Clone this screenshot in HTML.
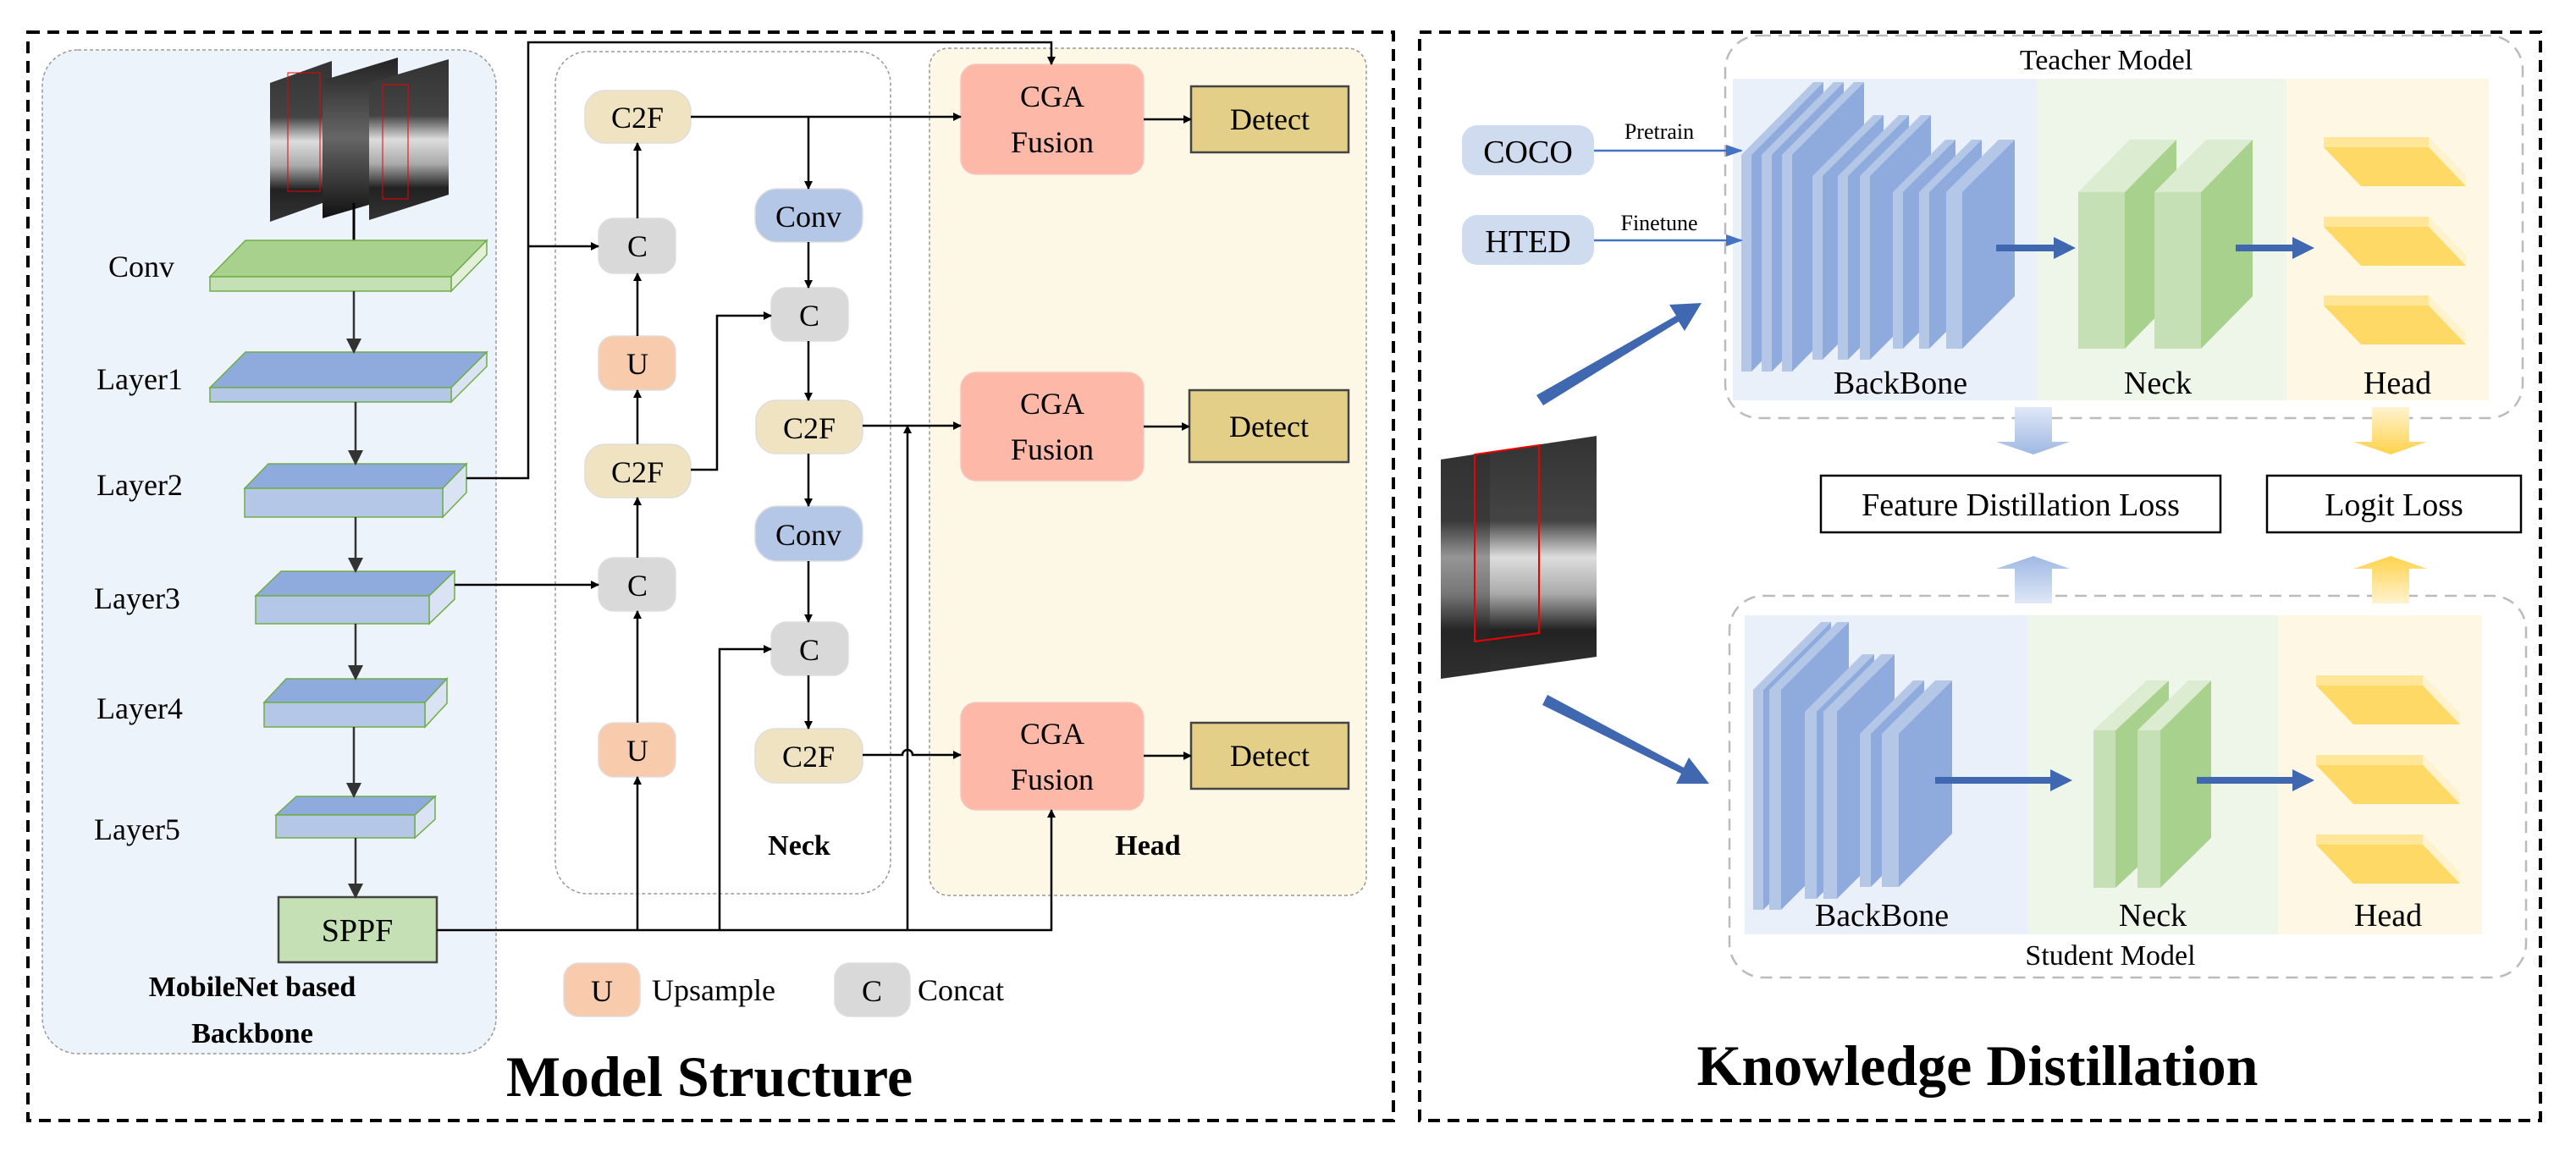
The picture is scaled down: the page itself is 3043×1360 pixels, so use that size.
<!DOCTYPE html>
<html><head><meta charset="utf-8"><style>
html,body{margin:0;padding:0;background:#fff}
svg{display:block}
svg text{font-family:"Liberation Serif","DejaVu Serif",serif !important;fill:#000}
</style></head><body>
<svg width="3043" height="1360" viewBox="0 0 3043 1360" xmlns="http://www.w3.org/2000/svg" font-family="Liberation Serif, DejaVu Serif, serif">
<defs>
<marker id="a" markerWidth="10" markerHeight="10" refX="9" refY="5" orient="auto" markerUnits="userSpaceOnUse" viewBox="0 0 10 10"><path d="M0,0L10,5L0,10z" fill="#000"/></marker>
<marker id="ab" markerWidth="18" markerHeight="18" refX="16" refY="9" orient="auto" markerUnits="userSpaceOnUse" viewBox="0 0 18 18"><path d="M0,0L18,9L0,18z" fill="#000"/></marker>
<marker id="ag" markerWidth="18" markerHeight="18" refX="16" refY="9" orient="auto" markerUnits="userSpaceOnUse" viewBox="0 0 18 18"><path d="M0,0L18,9L0,18z" fill="#333"/></marker>
<marker id="abl" markerWidth="20" markerHeight="20" refX="18" refY="10" orient="auto" markerUnits="userSpaceOnUse" viewBox="0 0 20 20"><path d="M0,3L20,10L0,17z" fill="#4472c4"/></marker>
<linearGradient id="gb" x1="0" y1="0" x2="0" y2="1"><stop offset="0" stop-color="#dfe8f7"/><stop offset="1" stop-color="#9fb8e3"/></linearGradient>
<linearGradient id="gbu" x1="0" y1="1" x2="0" y2="0"><stop offset="0" stop-color="#dfe8f7"/><stop offset="1" stop-color="#9fb8e3"/></linearGradient>
<linearGradient id="gy" x1="0" y1="0" x2="0" y2="1"><stop offset="0" stop-color="#fff3d0"/><stop offset="1" stop-color="#ffd24a"/></linearGradient>
<linearGradient id="gyu" x1="0" y1="1" x2="0" y2="0"><stop offset="0" stop-color="#fff3d0"/><stop offset="1" stop-color="#ffd24a"/></linearGradient>
<linearGradient id="img" x1="0" y1="0" x2="0" y2="1"><stop offset="0" stop-color="#333"/><stop offset="0.35" stop-color="#444"/><stop offset="0.5" stop-color="#ddd"/><stop offset="0.65" stop-color="#aaa"/><stop offset="0.8" stop-color="#222"/><stop offset="1" stop-color="#333"/></linearGradient>
<linearGradient id="img2" x1="0" y1="0" x2="0" y2="1"><stop offset="0" stop-color="#222"/><stop offset="0.5" stop-color="#666"/><stop offset="1" stop-color="#111"/></linearGradient>
</defs>

<rect x="33" y="38" width="1613" height="1286" fill="none" stroke="#000" stroke-width="4" stroke-dasharray="14,9"/>
<rect x="1677" y="38" width="1324" height="1286" fill="none" stroke="#000" stroke-width="4" stroke-dasharray="14,9"/>

<rect x="50" y="59" width="536" height="1186" rx="42" fill="#edf3fa" stroke="#999" stroke-width="1.5" stroke-dasharray="4,3"/>
<rect x="656" y="61" width="396" height="995" rx="38" fill="#fff" stroke="#999" stroke-width="1.5" stroke-dasharray="4,3"/>
<rect x="1098" y="57" width="516" height="1001" rx="22" fill="#fdf8e6" stroke="#999" stroke-width="1.5" stroke-dasharray="4,3"/>

<!-- input images -->
<polygon points="319,98 392,72 392,236 319,262" fill="url(#img)"/>
<rect x="340" y="86" width="38" height="140" fill="none" stroke="#e00" stroke-width="1"/>
<polygon points="381,95 470,68 470,232 381,258" fill="url(#img2)"/>
<polygon points="436,98 530,70 530,230 436,260" fill="url(#img)"/>
<rect x="452" y="100" width="30" height="135" fill="none" stroke="#e00" stroke-width="1"/>
<line x1="418" y1="240" x2="418" y2="327" stroke="#000" stroke-width="3" marker-end="url(#ab)"/>

<g stroke="#70ad47" stroke-width="1.5">
<polygon points="248,327 290,284 575,284 533,327" fill="#a9d18e"/>
<polygon points="533,327 575,284 575,301 533,344" fill="#e2f0d9"/>
<rect x="248" y="327" width="285" height="17" fill="#c5e0b4"/>
<polygon points="248,458 290,416 575,416 533,458" fill="#8faadc"/>
<polygon points="533,458 575,416 575,433 533,475" fill="#dae3f3"/>
<rect x="248" y="458" width="285" height="17" fill="#b4c7e7"/>
<polygon points="289,577 317,548 551,548 523,577" fill="#8faadc"/>
<polygon points="523,577 551,548 551,582 523,611" fill="#dae3f3"/>
<rect x="289" y="577" width="234" height="34" fill="#b4c7e7"/>
<polygon points="302,704 332,675 537,675 507,704" fill="#8faadc"/>
<polygon points="507,704 537,675 537,708 507,737" fill="#dae3f3"/>
<rect x="302" y="704" width="205" height="33" fill="#b4c7e7"/>
<polygon points="312,830 338,802 528,802 502,830" fill="#8faadc"/>
<polygon points="502,830 528,802 528,831 502,859" fill="#dae3f3"/>
<rect x="312" y="830" width="190" height="29" fill="#b4c7e7"/>
<polygon points="326,963 350,941 514,941 490,963" fill="#8faadc"/>
<polygon points="490,963 514,941 514,968 490,990" fill="#dae3f3"/>
<rect x="326" y="963" width="164" height="27" fill="#b4c7e7"/>
</g>
<rect x="329" y="1060" width="187" height="77" fill="#c5e0b4" stroke="#444" stroke-width="2.5"/>
<text x="422" y="1112" font-size="38" text-anchor="middle">SPPF</text>

<g font-size="36">
<text x="128" y="327">Conv</text>
<text x="114" y="460">Layer1</text>
<text x="114" y="585">Layer2</text>
<text x="111" y="719">Layer3</text>
<text x="114" y="849">Layer4</text>
<text x="111" y="992">Layer5</text>
</g>
<text x="298" y="1177" font-size="34" font-weight="bold" text-anchor="middle">MobileNet based</text>
<text x="298" y="1232" font-size="34" font-weight="bold" text-anchor="middle">Backbone</text>

<g stroke="#333" stroke-width="2.5" fill="none">
<line x1="418" y1="344" x2="418" y2="416" marker-end="url(#ag)"/>
<line x1="420" y1="475" x2="420" y2="548" marker-end="url(#ag)"/>
<line x1="420" y1="611" x2="420" y2="675" marker-end="url(#ag)"/>
<line x1="420" y1="737" x2="420" y2="802" marker-end="url(#ag)"/>
<line x1="418" y1="859" x2="418" y2="941" marker-end="url(#ag)"/>
<line x1="420" y1="990" x2="420" y2="1060" marker-end="url(#ag)"/>
</g>

<g stroke="#ddd" stroke-width="1.5">
<rect x="691" y="107" width="125" height="62" rx="24" fill="#efe3c2"/>
<rect x="707" y="258" width="91" height="65" rx="18" fill="#d9d9d9"/>
<rect x="707" y="397" width="91" height="64" rx="18" fill="#f8cbad"/>
<rect x="691" y="525" width="125" height="63" rx="24" fill="#efe3c2"/>
<rect x="707" y="659" width="91" height="63" rx="18" fill="#d9d9d9"/>
<rect x="707" y="854" width="91" height="64" rx="18" fill="#f8cbad"/>
<rect x="892" y="223" width="127" height="63" rx="26" fill="#b4c7e7"/>
<rect x="911" y="340" width="91" height="63" rx="18" fill="#d9d9d9"/>
<rect x="893" y="473" width="126" height="63" rx="24" fill="#efe3c2"/>
<rect x="892" y="598" width="127" height="65" rx="26" fill="#b4c7e7"/>
<rect x="911" y="735" width="91" height="63" rx="18" fill="#d9d9d9"/>
<rect x="892" y="861" width="127" height="64" rx="24" fill="#efe3c2"/>
<rect x="666" y="1138" width="90" height="63" rx="18" fill="#f8cbad"/>
<rect x="986" y="1138" width="89" height="63" rx="18" fill="#d9d9d9"/>
</g>
<g font-size="36" text-anchor="middle">
<text x="753" y="151">C2F</text>
<text x="753" y="303">C</text>
<text x="753" y="442">U</text>
<text x="753" y="570">C2F</text>
<text x="753" y="704">C</text>
<text x="753" y="899">U</text>
<text x="955" y="268">Conv</text>
<text x="956" y="385">C</text>
<text x="956" y="518">C2F</text>
<text x="955" y="644">Conv</text>
<text x="956" y="780">C</text>
<text x="955" y="906">C2F</text>
<text x="711" y="1183">U</text>
<text x="1030" y="1183">C</text>
</g>
<text x="770" y="1182" font-size="36">Upsample</text>
<text x="1084" y="1182" font-size="36">Concat</text>
<text x="944" y="1010" font-size="34" font-weight="bold" text-anchor="middle">Neck</text>
<text x="1356" y="1010" font-size="34" font-weight="bold" text-anchor="middle">Head</text>

<g stroke="#f3c8bd" stroke-width="1.5">
<rect x="1135" y="76" width="216" height="130" rx="18" fill="#fdb8a8"/>
<rect x="1135" y="440" width="216" height="128" rx="18" fill="#fdb8a8"/>
<rect x="1135" y="830" width="216" height="127" rx="18" fill="#fdb8a8"/>
</g>
<g font-size="36" text-anchor="middle">
<text x="1243" y="126">CGA</text><text x="1243" y="180">Fusion</text>
<text x="1243" y="489">CGA</text><text x="1243" y="543">Fusion</text>
<text x="1243" y="879">CGA</text><text x="1243" y="933">Fusion</text>
</g>
<g fill="#e3cf88" stroke="#444" stroke-width="2.5">
<rect x="1407" y="102" width="186" height="78"/>
<rect x="1405" y="461" width="188" height="85"/>
<rect x="1407" y="854" width="186" height="78"/>
</g>
<g font-size="36" text-anchor="middle">
<text x="1500" y="153">Detect</text>
<text x="1499" y="516">Detect</text>
<text x="1500" y="905">Detect</text>
</g>

<g stroke="#000" stroke-width="2.5" fill="none">
<polyline points="551,565 624,565 624,50 1242,50 1242,76" marker-end="url(#a)"/>
<line x1="624" y1="291" x2="707" y2="291" marker-end="url(#a)"/>
<line x1="537" y1="691" x2="707" y2="691" marker-end="url(#a)"/>
<line x1="753" y1="1099" x2="753" y2="918" marker-end="url(#a)"/>
<line x1="753" y1="854" x2="753" y2="722" marker-end="url(#a)"/>
<line x1="753" y1="659" x2="753" y2="588" marker-end="url(#a)"/>
<line x1="753" y1="525" x2="753" y2="461" marker-end="url(#a)"/>
<line x1="753" y1="397" x2="753" y2="323" marker-end="url(#a)"/>
<line x1="753" y1="258" x2="753" y2="169" marker-end="url(#a)"/>
<line x1="816" y1="138" x2="1135" y2="138" marker-end="url(#a)"/>
<line x1="955" y1="138" x2="955" y2="223" marker-end="url(#a)"/>
<line x1="955" y1="286" x2="955" y2="340" marker-end="url(#a)"/>
<line x1="955" y1="403" x2="955" y2="473" marker-end="url(#a)"/>
<line x1="955" y1="536" x2="955" y2="598" marker-end="url(#a)"/>
<line x1="955" y1="663" x2="955" y2="735" marker-end="url(#a)"/>
<line x1="955" y1="798" x2="955" y2="861" marker-end="url(#a)"/>
<polyline points="816,555 847,555 847,373 911,373" marker-end="url(#a)"/>
<line x1="1019" y1="503" x2="1135" y2="503" marker-end="url(#a)"/>
<line x1="1072" y1="1099" x2="1072" y2="503" marker-end="url(#a)"/>
<polyline points="850,1099 850,767 911,767" marker-end="url(#a)"/>
<path d="M1019,892 L1066,892 A6,6 0 0 1 1078,892 L1135,892" marker-end="url(#a)"/>
<polyline points="516,1099 1242,1099 1242,957" marker-end="url(#a)"/>
<line x1="1351" y1="141" x2="1407" y2="141" marker-end="url(#a)"/>
<line x1="1351" y1="504" x2="1405" y2="504" marker-end="url(#a)"/>
<line x1="1351" y1="893" x2="1407" y2="893" marker-end="url(#a)"/>
</g>

<text x="838" y="1295" font-size="68" font-weight="bold" text-anchor="middle">Model Structure</text>

<!-- ===== Knowledge Distillation ===== -->
<rect x="2038" y="42" width="942" height="452" rx="40" fill="none" stroke="#bbb" stroke-width="2.5" stroke-dasharray="14,9"/>
<rect x="2043" y="704" width="941" height="451" rx="40" fill="none" stroke="#bbb" stroke-width="2.5" stroke-dasharray="14,9"/>
<rect x="2047" y="93" width="359" height="380" fill="#eaf0fa"/>
<rect x="2406" y="93" width="295" height="380" fill="#eef5e9"/>
<rect x="2701" y="93" width="239" height="380" fill="#fdf7e3"/>
<rect x="2061" y="727" width="334" height="377" fill="#eaf0fa"/>
<rect x="2395" y="727" width="296" height="377" fill="#eef5e9"/>
<rect x="2691" y="727" width="241" height="377" fill="#fdf7e3"/>

<text x="2488" y="82" font-size="34" text-anchor="middle">Teacher Model</text>
<text x="2493" y="1140" font-size="34" text-anchor="middle">Student Model</text>
<g font-size="38" text-anchor="middle">
<text x="2245" y="465">BackBone</text><text x="2549" y="465">Neck</text><text x="2832" y="465">Head</text>
<text x="2223" y="1094">BackBone</text><text x="2543" y="1094">Neck</text><text x="2821" y="1094">Head</text>
</g>

<polygon points="2069,183 2154,97 2154,353 2069,439" fill="#8faadc"/><polygon points="2057,183 2142,97 2154,97 2069,183" fill="#b4c7e7"/><rect x="2057" y="183" width="12" height="256" fill="#b4c7e7"/>
<polygon points="2093,183 2178,97 2178,353 2093,439" fill="#8faadc"/><polygon points="2081,183 2166,97 2178,97 2093,183" fill="#b4c7e7"/><rect x="2081" y="183" width="12" height="256" fill="#b4c7e7"/>
<polygon points="2117,183 2202,97 2202,353 2117,439" fill="#8faadc"/><polygon points="2105,183 2190,97 2202,97 2117,183" fill="#b4c7e7"/><rect x="2105" y="183" width="12" height="256" fill="#b4c7e7"/>
<polygon points="2153,208 2225,136 2225,353 2153,425" fill="#8faadc"/><polygon points="2141,208 2213,136 2225,136 2153,208" fill="#b4c7e7"/><rect x="2141" y="208" width="12" height="217" fill="#b4c7e7"/>
<polygon points="2183,208 2255,136 2255,353 2183,425" fill="#8faadc"/><polygon points="2171,208 2243,136 2255,136 2183,208" fill="#b4c7e7"/><rect x="2171" y="208" width="12" height="217" fill="#b4c7e7"/>
<polygon points="2209,208 2281,136 2281,353 2209,425" fill="#8faadc"/><polygon points="2197,208 2269,136 2281,136 2209,208" fill="#b4c7e7"/><rect x="2197" y="208" width="12" height="217" fill="#b4c7e7"/>
<polygon points="2248,227 2310,165 2310,350 2248,412" fill="#8faadc"/><polygon points="2236,227 2298,165 2310,165 2248,227" fill="#b4c7e7"/><rect x="2236" y="227" width="12" height="185" fill="#b4c7e7"/>
<polygon points="2279,227 2341,165 2341,350 2279,412" fill="#8faadc"/><polygon points="2267,227 2329,165 2341,165 2279,227" fill="#b4c7e7"/><rect x="2267" y="227" width="12" height="185" fill="#b4c7e7"/>
<polygon points="2318,227 2380,165 2380,350 2318,412" fill="#8faadc"/><polygon points="2299,227 2361,165 2380,165 2318,227" fill="#b4c7e7"/><rect x="2299" y="227" width="19" height="185" fill="#b4c7e7"/>

<polygon points="2510,227 2571,165 2571,350 2510,412" fill="#a9d18e"/><polygon points="2455,227 2516,165 2571,165 2510,227" fill="#dbecd0"/><rect x="2455" y="227" width="55" height="185" fill="#c5e0b4"/>
<polygon points="2600,227 2661,165 2661,350 2600,412" fill="#a9d18e"/><polygon points="2545,227 2606,165 2661,165 2600,227" fill="#dbecd0"/><rect x="2545" y="227" width="55" height="185" fill="#c5e0b4"/>

<polygon points="2745,162 2869,162 2913,208 2913,220 2789,220 2745,174" fill="#ffd966"/><polygon points="2745,162 2869,162 2869,174 2745,174" fill="#ffe699"/><polygon points="2869,162 2913,208 2913,220 2869,174" fill="#fff2cc"/>
<polygon points="2745,256 2869,256 2913,302 2913,314 2789,314 2745,268" fill="#ffd966"/><polygon points="2745,256 2869,256 2869,268 2745,268" fill="#ffe699"/><polygon points="2869,256 2913,302 2913,314 2869,268" fill="#fff2cc"/>
<polygon points="2745,349 2869,349 2913,395 2913,407 2789,407 2745,361" fill="#ffd966"/><polygon points="2745,349 2869,349 2869,361 2745,361" fill="#ffe699"/><polygon points="2869,349 2913,395 2913,407 2869,361" fill="#fff2cc"/>

<polygon points="2083,815 2163,735 2163,995 2083,1075" fill="#8faadc"/><polygon points="2071,815 2151,735 2163,735 2083,815" fill="#b4c7e7"/><rect x="2071" y="815" width="12" height="260" fill="#b4c7e7"/>
<polygon points="2104,815 2184,735 2184,995 2104,1075" fill="#8faadc"/><polygon points="2090,815 2170,735 2184,735 2104,815" fill="#b4c7e7"/><rect x="2090" y="815" width="14" height="260" fill="#b4c7e7"/>
<polygon points="2146,841 2214,773 2214,994 2146,1062" fill="#8faadc"/><polygon points="2132,841 2200,773 2214,773 2146,841" fill="#b4c7e7"/><rect x="2132" y="841" width="14" height="221" fill="#b4c7e7"/>
<polygon points="2170,841 2238,773 2238,994 2170,1062" fill="#8faadc"/><polygon points="2154,841 2222,773 2238,773 2170,841" fill="#b4c7e7"/><rect x="2154" y="841" width="16" height="221" fill="#b4c7e7"/>
<polygon points="2210,867 2273,804 2273,985 2210,1048" fill="#8faadc"/><polygon points="2197,867 2260,804 2273,804 2210,867" fill="#b4c7e7"/><rect x="2197" y="867" width="13" height="181" fill="#b4c7e7"/>
<polygon points="2243,867 2306,804 2306,985 2243,1048" fill="#8faadc"/><polygon points="2223,867 2286,804 2306,804 2243,867" fill="#b4c7e7"/><rect x="2223" y="867" width="20" height="181" fill="#b4c7e7"/>

<polygon points="2499,863 2562,804 2562,990 2499,1049" fill="#a9d18e"/><polygon points="2473,863 2536,804 2562,804 2499,863" fill="#dbecd0"/><rect x="2473" y="863" width="26" height="186" fill="#c5e0b4"/>
<polygon points="2552,863 2612,804 2612,990 2552,1049" fill="#a9d18e"/><polygon points="2525,863 2585,804 2612,804 2552,863" fill="#dbecd0"/><rect x="2525" y="863" width="27" height="186" fill="#c5e0b4"/>

<polygon points="2736,798 2862,798 2906,844 2906,856 2780,856 2736,810" fill="#ffd966"/><polygon points="2736,798 2862,798 2862,810 2736,810" fill="#ffe699"/><polygon points="2862,798 2906,844 2906,856 2862,810" fill="#fff2cc"/>
<polygon points="2736,892 2862,892 2906,938 2906,950 2780,950 2736,904" fill="#ffd966"/><polygon points="2736,892 2862,892 2862,904 2736,904" fill="#ffe699"/><polygon points="2862,892 2906,938 2906,950 2862,904" fill="#fff2cc"/>
<polygon points="2736,986 2862,986 2906,1032 2906,1044 2780,1044 2736,998" fill="#ffd966"/><polygon points="2736,986 2862,986 2862,998 2736,998" fill="#ffe699"/><polygon points="2862,986 2906,1032 2906,1044 2862,998" fill="#fff2cc"/>

<g stroke="#4068b0" stroke-width="8" fill="none">
<line x1="2358" y1="293" x2="2430" y2="293"/><line x1="2641" y1="293" x2="2712" y2="293"/>
<line x1="2286" y1="922" x2="2426" y2="922"/><line x1="2595" y1="922" x2="2712" y2="922"/>
</g>
<g fill="#4068b0">
<polygon points="2426,280 2452,293 2426,306"/><polygon points="2708,280 2734,293 2708,306"/>
<polygon points="2422,909 2448,922 2422,935"/><polygon points="2708,909 2734,922 2708,935"/>
</g>

<rect x="1727" y="148" width="156" height="59" rx="18" fill="#cfdcf0"/>
<rect x="1727" y="254" width="156" height="59" rx="18" fill="#cfdcf0"/>
<text x="1805" y="192" font-size="38" text-anchor="middle">COCO</text>
<text x="1805" y="298" font-size="38" text-anchor="middle">HTED</text>
<text x="1960" y="164" font-size="26" text-anchor="middle">Pretrain</text>
<text x="1960" y="272" font-size="26" text-anchor="middle">Finetune</text>
<g stroke="#4472c4" stroke-width="2.5">
<line x1="1883" y1="178" x2="2057" y2="178" marker-end="url(#abl)"/>
<line x1="1883" y1="284" x2="2057" y2="284" marker-end="url(#abl)"/>
</g>

<polygon points="1702,543 1886,515 1886,776 1702,802" fill="url(#img)"/>
<polygon points="1702,543 1760,534 1760,794 1702,802" fill="#2a2a2a" opacity="0.4"/>
<polygon points="1742,537 1818,526 1818,748 1742,758" fill="none" stroke="#e00" stroke-width="2"/>

<g fill="#4068b0">
<polygon points="1815,467 1980,373 1972,360 2010,358 1990,391 1983,380 1823,479"/>
<polygon points="1822,833 1986,914 1980,926 2019,926 1995,895 1989,907 1828,821"/>
</g>

<rect x="2151" y="562" width="472" height="67" fill="#fff" stroke="#000" stroke-width="2.5"/>
<rect x="2678" y="562" width="300" height="67" fill="#fff" stroke="#000" stroke-width="2.5"/>
<text x="2387" y="609" font-size="38" text-anchor="middle">Feature Distillation Loss</text>
<text x="2828" y="609" font-size="38" text-anchor="middle">Logit Loss</text>
<polygon points="2380,481 2424,481 2424,522 2445,522 2402,537 2358,522 2380,522" fill="url(#gb)"/>
<polygon points="2802,481 2846,481 2846,522 2867,522 2824,537 2780,522 2802,522" fill="url(#gy)"/>
<polygon points="2380,713 2424,713 2424,672 2445,672 2402,657 2358,672 2380,672" fill="url(#gbu)"/>
<polygon points="2802,713 2846,713 2846,672 2867,672 2824,657 2780,672 2802,672" fill="url(#gyu)"/>

<text x="2336" y="1282" font-size="68" font-weight="bold" text-anchor="middle">Knowledge Distillation</text>
</svg>
</body></html>
